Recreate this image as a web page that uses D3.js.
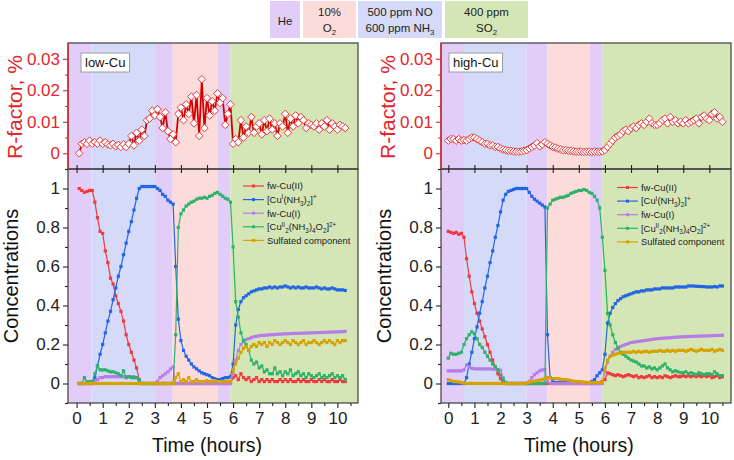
<!DOCTYPE html>
<html>
<head>
<meta charset="utf-8">
<script src="https://cdn.jsdelivr.net/npm/d3@7"></script>
<style>
  body { margin: 0; background: #fff; }
  svg { display: block; font-family: "Liberation Sans", Arial, sans-serif; }
</style>
</head>
<body>
<svg id="chart" width="734" height="460"></svg>
<script>
const dt = 0.1;
const lowCuStart = 0.1;   // low-Cu: 0.1 .. 10.3 h
const highCuStart = 0.0;  // high-Cu: 0.0 .. 10.5 h

const lowCuRfactor = [
  0.000,0.003,0.0035,0.003,0.004,0.003,0.0035,0.003,0.004,0.003,
  0.0035,0.0028,0.0025,0.003,0.0022,0.0026,0.002,0.0028,0.002,0.003,
  0.0055,0.0025,0.0065,0.004,0.0075,0.0055,0.0105,0.011,0.0135,0.012,
  0.014,0.0115,0.008,0.013,0.007,0.0045,0.006,0.0035,0.0125,0.0145,
  0.0105,0.0155,0.0125,0.018,0.0095,0.0185,0.0055,0.0235,0.008,0.0175,
  0.012,0.0165,0.0135,0.019,0.016,0.0175,0.009,0.0125,0.0155,0.003,
  0.0045,0.0035,0.0105,0.005,0.0085,0.0065,0.0115,0.0065,0.0085,0.0095,
  0.006,0.0105,0.007,0.011,0.0075,0.0095,0.0055,0.0095,0.0085,0.0125,
  0.0065,0.011,0.0085,0.012,0.0095,0.0115,0.0105,0.008,0.0095,0.009,
  0.0085,0.0095,0.0075,0.0095,0.0085,0.0105,0.0075,0.0095,0.0085,0.0075,
  0.009,0.0085,0.008
];
const lowCuFwCuII = [
  1.00,0.99,0.98,0.985,0.99,0.99,0.93,0.85,0.78,0.77,
  0.68,0.62,0.54,0.51,0.45,0.41,0.37,0.32,0.25,0.20,
  0.16,0.12,0.08,0.02,0,0,0,0,0,0,
  0,0,0,0,0,0,0,0,0,0,
  0,0,0,0,0,0,0,0,0,0,
  0,0,0,0,0,0,0,0,0,0.03,
  0.04,0.02,0.05,0.03,0.02,0.03,0.01,0.02,0.03,0.01,
  0.02,0.01,0.02,0.01,0.02,0.01,0.01,0.02,0.01,0.02,
  0.01,0.02,0.01,0.01,0.02,0.01,0.02,0.01,0.01,0.02,
  0.01,0.01,0.02,0.01,0.02,0.01,0.01,0.02,0.01,0.01,
  0.02,0.01,0.01
];
const lowCuCuINH3 = [
  0,0,0,0,0,0,0.03,0.09,0.15,0.20,
  0.26,0.32,0.37,0.43,0.49,0.55,0.60,0.66,0.72,0.78,
  0.83,0.89,0.95,1.00,1.01,1.01,1.01,1.01,1.01,1.01,
  1.00,0.99,0.97,0.96,0.94,0.93,0.92,0.60,0.33,0.22,
  0.17,0.14,0.12,0.10,0.085,0.075,0.065,0.055,0.05,0.045,
  0.04,0.03,0.025,0.02,0.02,0.025,0.03,0.03,0.035,0.10,
  0.30,0.38,0.42,0.44,0.45,0.46,0.47,0.475,0.48,0.485,
  0.485,0.49,0.49,0.495,0.49,0.495,0.49,0.495,0.495,0.50,
  0.495,0.49,0.495,0.49,0.495,0.49,0.49,0.495,0.49,0.49,
  0.49,0.495,0.49,0.485,0.49,0.485,0.485,0.49,0.485,0.48,
  0.48,0.48,0.477
];
const lowCuFwCuI = [
  0,0,0,0,0,0,0.01,0.02,0.03,0.03,
  0.035,0.035,0.035,0.035,0.035,0.035,0.035,0.035,0.035,0.035,
  0.035,0.035,0.03,0.01,0,0,0,0,0,0,
  0.01,0.03,0.04,0.05,0.06,0.075,0.085,0,0,0,
  0,0,0,0,0,0,0,0,0,0,
  0,0,0,0,0,0,0,0,0,0.05,
  0.12,0.17,0.20,0.215,0.225,0.23,0.235,0.24,0.242,0.245,
  0.246,0.247,0.248,0.25,0.25,0.251,0.252,0.253,0.254,0.255,
  0.255,0.256,0.256,0.257,0.257,0.258,0.258,0.259,0.259,0.26,
  0.26,0.261,0.261,0.262,0.262,0.263,0.263,0.264,0.264,0.265,
  0.265,0.266,0.267
];
const lowCuDimer = [
  0,0,0.03,0.01,0.01,0.01,0.05,0.09,0.07,0.07,
  0.07,0.065,0.06,0.06,0.055,0.05,0.04,0.065,0.03,0.035,
  0.03,0.03,0.03,0.02,0,0,0,0,0,0,
  0,0,0,0,0,0,0,0.25,0.80,0.87,
  0.89,0.91,0.92,0.93,0.935,0.945,0.95,0.95,0.955,0.95,
  0.96,0.965,0.975,0.98,0.97,0.96,0.95,0.945,0.93,0.70,
  0.42,0.34,0.26,0.22,0.20,0.17,0.12,0.10,0.11,0.08,
  0.09,0.06,0.07,0.05,0.05,0.08,0.05,0.06,0.04,0.06,
  0.05,0.07,0.04,0.05,0.06,0.04,0.05,0.03,0.05,0.04,
  0.03,0.04,0.05,0.03,0.04,0.03,0.04,0.05,0.03,0.04,
  0.03,0.04,0.02
];
const lowCuSulfated = [
  0,0,0,0,0,0,0,0,0,0,
  0,0,0,0,0,0,0,0,0,0,
  0,0,0,0,0,0,0,0,0,0,
  0,0,0,0,0,0,0,0.03,0.05,0.01,
  0.02,0.01,0.03,0.01,0.01,0.02,0.01,0.01,0.01,0.015,
  0.01,0.01,0.015,0.01,0.01,0.01,0.01,0.01,0.01,0.07,
  0.10,0.13,0.16,0.18,0.19,0.17,0.19,0.20,0.19,0.21,
  0.20,0.21,0.19,0.21,0.20,0.22,0.21,0.20,0.21,0.22,
  0.21,0.20,0.22,0.21,0.20,0.21,0.22,0.20,0.21,0.21,
  0.22,0.21,0.20,0.21,0.22,0.21,0.22,0.21,0.20,0.22,
  0.21,0.22,0.22
];

const highCuRfactor = [
  0.004,0.0045,0.0045,0.004,0.0045,0.004,0.0042,0.004,0.0045,0.005,
  0.005,0.0045,0.004,0.0035,0.003,0.003,0.0025,0.0025,0.002,0.002,
  0.0015,0.0012,0.001,0.0008,0.0008,0.0006,0.0005,0.0005,0.0006,0.0008,
  0.001,0.0015,0.002,0.0025,0.0032,0.0022,0.0028,0.0035,0.003,0.0025,
  0.002,0.0018,0.0015,0.0012,0.001,0.001,0.0008,0.0008,0.0006,0.0005,
  0.0005,0.0005,0.0004,0.0005,0.0005,0.0004,0.0005,0.0005,0.0005,0.0006,
  0.001,0.002,0.003,0.004,0.005,0.0055,0.006,0.007,0.0075,0.007,
  0.008,0.0085,0.008,0.009,0.0095,0.009,0.010,0.011,0.0095,0.009,
  0.009,0.0095,0.0105,0.011,0.0095,0.0115,0.010,0.0105,0.0095,0.010,
  0.0095,0.0105,0.0095,0.010,0.0105,0.011,0.0095,0.0115,0.012,0.011,
  0.0105,0.0125,0.013,0.011,0.0115,0.010
];
const highCuFwCuII = [
  0.78,0.775,0.77,0.775,0.765,0.77,0.75,0.64,0.55,0.47,
  0.41,0.36,0.32,0.28,0.24,0.20,0.16,0.12,0.085,0.05,
  0.025,0.005,0,0,0,0,0,0,0,0,
  0,0,0,0,0,0,0,0,0,0,
  0,0,0,0,0,0,0,0,0,0,
  0,0,0,0,0,0,0,0,0.005,0.01,
  0.02,0.055,0.05,0.045,0.04,0.045,0.04,0.035,0.04,0.045,
  0.04,0.035,0.04,0.03,0.035,0.03,0.035,0.04,0.03,0.035,
  0.03,0.035,0.03,0.04,0.035,0.03,0.035,0.04,0.035,0.035,
  0.04,0.035,0.04,0.035,0.04,0.035,0.04,0.035,0.04,0.035,
  0.04,0.03,0.035,0.04,0.03,0.035
];
const highCuCuINH3 = [
  0,0,0,0,0,0,0,0.03,0.10,0.16,
  0.23,0.29,0.36,0.42,0.49,0.55,0.62,0.68,0.75,0.81,
  0.88,0.94,0.97,0.985,0.99,0.995,1.0,1.0,1.0,1.0,
  1.0,0.98,0.96,0.945,0.935,0.925,0.915,0.905,0.25,0.03,
  0.01,0.005,0.005,0.005,0.005,0.005,0.005,0.005,0.005,0.005,
  0.005,0.005,0.005,0.005,0.005,0.01,0.02,0.04,0.055,0.07,
  0.15,0.31,0.36,0.39,0.41,0.425,0.435,0.445,0.45,0.455,
  0.46,0.465,0.47,0.47,0.475,0.475,0.48,0.48,0.48,0.485,
  0.485,0.485,0.49,0.49,0.49,0.49,0.49,0.495,0.495,0.495,
  0.495,0.495,0.50,0.50,0.50,0.498,0.498,0.497,0.497,0.495,
  0.495,0.495,0.497,0.495,0.50,0.50
];
const highCuFwCuI = [
  0.065,0.065,0.065,0.065,0.065,0.065,0.07,0.095,0.085,0.078,
  0.075,0.075,0.075,0.075,0.075,0.075,0.075,0.073,0.073,0.072,
  0.068,0.03,0.005,0,0,0,0,0,0,0,
  0,0.01,0.03,0.045,0.055,0.065,0.07,0.072,0.01,0,
  0,0,0,0,0,0,0,0,0,0,
  0,0,0,0,0,0,0,0,0,0,
  0.06,0.11,0.14,0.16,0.175,0.185,0.19,0.195,0.20,0.205,
  0.21,0.212,0.214,0.216,0.218,0.22,0.222,0.224,0.226,0.228,
  0.23,0.231,0.232,0.233,0.234,0.235,0.236,0.237,0.238,0.239,
  0.24,0.24,0.241,0.241,0.242,0.242,0.243,0.243,0.244,0.244,
  0.245,0.245,0.246,0.246,0.247,0.247
];
const highCuDimer = [
  0.13,0.155,0.15,0.15,0.155,0.16,0.20,0.23,0.25,0.265,
  0.255,0.23,0.20,0.185,0.16,0.14,0.12,0.10,0.085,0.07,
  0.045,0.02,0.005,0,0,0,0,0,0,0,
  0,0,0,0,0,0,0,0,0.90,0.92,
  0.94,0.945,0.95,0.955,0.955,0.96,0.965,0.975,0.98,0.985,
  0.99,0.99,0.995,0.99,0.98,0.975,0.96,0.94,0.90,0.75,
  0.58,0.36,0.30,0.25,0.21,0.18,0.16,0.15,0.14,0.13,
  0.12,0.115,0.11,0.10,0.09,0.09,0.08,0.085,0.075,0.08,
  0.07,0.08,0.09,0.10,0.08,0.07,0.06,0.065,0.06,0.055,
  0.055,0.06,0.05,0.055,0.05,0.045,0.055,0.05,0.045,0.05,
  0.05,0.045,0.06,0.05,0.04,0.04
];
const highCuSulfated = [
  0.02,0.015,0.01,0.01,0.008,0.005,0.002,0,0,0,
  0,0,0,0,0,0,0,0,0,0,
  0,0,0,0,0,0,0,0,0,0,
  0.003,0.006,0.01,0.012,0.015,0.018,0.02,0.025,0.03,0.03,
  0.025,0.025,0.025,0.022,0.02,0.02,0.018,0.015,0.012,0.01,
  0.01,0.008,0.006,0.005,0.005,0.005,0.005,0.005,0.005,0.005,
  0.08,0.12,0.14,0.145,0.15,0.155,0.155,0.16,0.16,0.16,
  0.16,0.165,0.16,0.165,0.16,0.165,0.165,0.16,0.165,0.165,
  0.165,0.17,0.165,0.165,0.17,0.165,0.17,0.165,0.17,0.17,
  0.17,0.165,0.17,0.175,0.17,0.165,0.17,0.175,0.17,0.17,
  0.17,0.175,0.165,0.17,0.175,0.17
];

// gas phases (hours where each phase ends), order: He, NO+NH3, He, O2, He, SO2
const phaseKeys = ['He', 'NO', 'He', 'O2', 'He', 'SO2'];
const lowCuPhaseEnds = [0.57, 3.0, 3.68, 5.4, 5.9];
const highCuPhaseEnds = [0.6, 3.0, 3.8, 5.43, 5.9];
const gasLabels = [
  { key: 'He',  lines: [[['He', '']]] },
  { key: 'O2',  lines: [[['10%', '']], [['O', ''], ['2', 'sub']]] },
  { key: 'NO',  lines: [[['500 ppm NO', '']], [['600 ppm NH', ''], ['3', 'sub']]] },
  { key: 'SO2', lines: [[['400 ppm', '']], [['SO', ''], ['2', 'sub']]] }
];
const seriesLabels = [
  [['fw-Cu(II)', '']],
  [['[Cu', ''], ['I', 'sup'], ['(NH', ''], ['3', 'sub'], [')', ''], ['2', 'sub'], [']', ''], ['+', 'sup']],
  [['fw-Cu(I)', '']],
  [['[Cu', ''], ['II', 'sup'], ['2', 'sub'], ['(NH', ''], ['3', 'sub'], [')', ''], ['4', 'sub'], ['O', ''], ['2', 'sub'], [']', ''], ['2+', 'sup']],
  [['Sulfated component', '']]
];
const xTicks = [0, 1, 2, 3, 4, 5, 6, 7, 8, 9, 10];
const concTicks = [0, 0.2, 0.4, 0.6, 0.8, 1];
const rTicks = [0, 0.01, 0.02, 0.03];

// ---- styles ----
const phaseColors = { He: '#e2cdf8', NO: '#d5daf9', O2: '#fcdbdb', SO2: '#d5e6b6' };
const seriesColors = ['#f2393d', '#2266e3', '#b67ce8', '#2db26b', '#d6a200'];
const axisRed = '#e3262b';
const frameColor = '#3c3c3c';

const svg = d3.select('#chart');
const topY = [43, 169];
const botY = [169, 403];

function richText(sel, pieces, fs) {
  let cur = 0;
  pieces.forEach(([s, kind]) => {
    const target = kind === 'sup' ? -0.38 * fs : kind === 'sub' ? 0.28 * fs : 0;
    sel.append('tspan')
      .attr('dy', target - cur)
      .attr('font-size', kind ? fs * 0.68 : fs)
      .text(s);
    cur = target;
  });
}

// gas legend boxes at the top
const gasBoxX = [[270, 300], [303, 356], [358, 442], [445, 528]];
gasLabels.forEach((g, i) => {
  const [a, b] = gasBoxX[i];
  svg.append('rect').attr('x', a).attr('y', 1).attr('width', b - a).attr('height', 37)
    .attr('fill', phaseColors[g.key]);
  const lineY = g.lines.length === 1 ? [24.5] : [16, 31.5];
  g.lines.forEach((ln, j) => {
    const t = svg.append('text').attr('x', (a + b) / 2).attr('y', lineY[j])
      .attr('text-anchor', 'middle').attr('fill', '#222').attr('font-size', 11.5);
    richText(t, ln, 11.5);
  });
});

let clipId = 0;
function drawPanel(p) {
  const x = d3.scaleLinear().domain(p.xDomain).range([p.left, p.right]);
  const yR = d3.scaleLinear().domain([-0.005, 0.035]).range([topY[1], topY[0]]);
  const yC = d3.scaleLinear().domain([-0.1, 1.1]).range([botY[1], botY[0]]);
  const time = p.rfactor.map((_, i) => +(p.start + i * dt).toFixed(2));
  const g = svg.append('g');

  // phase backgrounds
  const edges = [p.xDomain[0], ...p.phaseEnds, p.xDomain[1]];
  phaseKeys.forEach((k, i) => {
    [topY, botY].forEach(yy => {
      g.append('rect')
        .attr('x', x(edges[i])).attr('width', x(edges[i + 1]) - x(edges[i]))
        .attr('y', yy[0]).attr('height', yy[1] - yy[0])
        .attr('fill', phaseColors[k]);
    });
  });

  // clip
  const cid = 'clip' + (clipId++);
  svg.append('clipPath').attr('id', cid).append('rect')
    .attr('x', p.left).attr('y', topY[0]).attr('width', p.right - p.left).attr('height', botY[1] - topY[0]);
  const plot = g.append('g').attr('clip-path', `url(#${cid})`);

  // R-factor
  plot.append('path').datum(p.rfactor)
    .attr('fill', 'none').attr('stroke', '#d40000').attr('stroke-width', 1.8)
    .attr('d', d3.line().x((d, i) => x(time[i])).y(d => yR(d)));
  plot.selectAll('.dia').data(p.rfactor).enter().append('path')
    .attr('d', 'M0,-3.8L3.8,0L0,3.8L-3.8,0Z')
    .attr('transform', (d, i) => `translate(${x(time[i])},${yR(d)})`)
    .attr('fill', '#fff').attr('stroke', '#e4393c').attr('stroke-width', 1);

  // concentrations
  p.series.forEach((vals, s) => {
    plot.append('path').datum(vals)
      .attr('fill', 'none').attr('stroke', seriesColors[s]).attr('stroke-width', 1.2)
      .attr('d', d3.line().x((d, i) => x(time[i])).y(d => yC(d)));
    plot.selectAll(null).data(vals).enter().append('rect')
      .attr('x', (d, i) => x(time[i]) - 1.6).attr('y', d => yC(d) - 1.6)
      .attr('width', 3.2).attr('height', 3.2).attr('fill', seriesColors[s]);
  });

  // frames
  [topY, botY].forEach(yy => {
    g.append('rect').attr('x', p.left).attr('y', yy[0])
      .attr('width', p.right - p.left).attr('height', yy[1] - yy[0])
      .attr('fill', 'none').attr('stroke', frameColor).attr('stroke-width', 1.2);
  });
  g.append('line').attr('x1', p.left).attr('x2', p.left).attr('y1', topY[0]).attr('y2', topY[1])
    .attr('stroke', axisRed).attr('stroke-width', 1.4);

  const minorX = d3.range(0.5, p.xDomain[1], 1);
  const styleAxis = (sel, color, fs) => {
    sel.select('.domain').remove();
    sel.selectAll('line').attr('stroke', color).attr('stroke-width', 1.1);
    sel.selectAll('text').attr('fill', color).attr('font-size', fs)
      .attr('font-family', '"Liberation Sans", Arial, sans-serif');
  };

  // bottom x axis
  g.append('g').attr('transform', `translate(0,${botY[1]})`)
    .call(d3.axisBottom(x).tickValues(xTicks).tickSize(5).tickPadding(4).tickFormat(d3.format('d')))
    .call(s => styleAxis(s, '#222', 17));
  g.append('g').attr('transform', `translate(0,${botY[1]})`)
    .call(d3.axisBottom(x).tickValues(minorX).tickSize(3).tickFormat(''))
    .call(s => styleAxis(s, '#222', 0));
  // inner ticks at shared border
  g.append('g').attr('transform', `translate(0,${botY[0]})`)
    .call(d3.axisBottom(x).tickValues(xTicks).tickSize(4).tickFormat(''))
    .call(s => styleAxis(s, '#222', 0));
  g.append('g').attr('transform', `translate(0,${topY[1]})`)
    .call(d3.axisTop(x).tickValues(xTicks).tickSize(4).tickFormat(''))
    .call(s => styleAxis(s, '#222', 0));

  // concentration y axis
  g.append('g').attr('transform', `translate(${p.left},0)`)
    .call(d3.axisLeft(yC).tickValues(concTicks).tickSize(5).tickPadding(3).tickFormat(d3.format('~g')))
    .call(s => styleAxis(s, '#222', 17));
  g.append('g').attr('transform', `translate(${p.left},0)`)
    .call(d3.axisLeft(yC).tickValues([-0.1, 0.1, 0.3, 0.5, 0.7, 0.9, 1.1]).tickSize(3).tickFormat(''))
    .call(s => styleAxis(s, '#222', 0));

  // R-factor y axis
  g.append('g').attr('transform', `translate(${p.left},0)`)
    .call(d3.axisLeft(yR).tickValues(rTicks).tickSize(5).tickPadding(3).tickFormat(d3.format('~g')))
    .call(s => styleAxis(s, axisRed, 17));
  g.append('g').attr('transform', `translate(${p.left},0)`)
    .call(d3.axisLeft(yR).tickValues([0.005, 0.015, 0.025]).tickSize(3).tickFormat(''))
    .call(s => styleAxis(s, axisRed, 0));

  // axis titles
  g.append('text')
    .attr('transform', `translate(${p.left - 53},${(topY[0] + topY[1]) / 2 + 1}) rotate(-90)`)
    .attr('text-anchor', 'middle').attr('dy', '0.35em')
    .attr('fill', axisRed).attr('font-size', 21).text('R-factor, %');
  g.append('text')
    .attr('transform', `translate(${p.left - 57},${(botY[0] + botY[1]) / 2 - 10}) rotate(-90)`)
    .attr('text-anchor', 'middle').attr('dy', '0.35em')
    .attr('fill', '#111').attr('font-size', 20).text('Concentrations');
  g.append('text')
    .attr('x', x(5)).attr('y', 452)
    .attr('text-anchor', 'middle').attr('fill', '#111').attr('font-size', 19.5)
    .text('Time (hours)');

  // sample tag
  const tag = g.append('g').attr('transform', `translate(${p.tagX},53)`);
  const tagText = tag.append('text').attr('x', 4).attr('y', 14)
    .attr('font-size', 13).attr('fill', '#111').text(p.label);
  const w = tagText.node().getComputedTextLength() + 8;
  tag.insert('rect', 'text').attr('width', w).attr('height', 19)
    .attr('fill', '#fff').attr('stroke', '#8a8a8a').attr('stroke-width', 0.8);

  // series legend
  seriesLabels.forEach((lab, i) => {
    const ly = p.legendY + i * 13.6;
    g.append('line').attr('x1', p.legendX).attr('x2', p.legendX + 21)
      .attr('y1', ly).attr('y2', ly).attr('stroke', seriesColors[i]).attr('stroke-width', 1.2);
    g.append('rect').attr('x', p.legendX + 9).attr('y', ly - 1.5).attr('width', 3).attr('height', 3)
      .attr('fill', seriesColors[i]);
    const t = g.append('text').attr('x', p.legendX + 24).attr('y', ly + 3.3)
      .attr('fill', '#222').attr('font-size', 9.4);
    richText(t, lab, 9.4);
  });
}

drawPanel({
  left: 68, right: 358, xDomain: [-0.33, 10.79], start: lowCuStart,
  rfactor: lowCuRfactor,
  series: [lowCuFwCuII, lowCuCuINH3, lowCuFwCuI, lowCuDimer, lowCuSulfated],
  phaseEnds: lowCuPhaseEnds, label: 'low-Cu', tagX: 81,
  legendX: 243, legendY: 186
});
drawPanel({
  left: 441, right: 731, xDomain: [-0.28, 10.83], start: highCuStart,
  rfactor: highCuRfactor,
  series: [highCuFwCuII, highCuCuINH3, highCuFwCuI, highCuDimer, highCuSulfated],
  phaseEnds: highCuPhaseEnds, label: 'high-Cu', tagX: 449,
  legendX: 617, legendY: 187.5
});
</script>
</body>
</html>
